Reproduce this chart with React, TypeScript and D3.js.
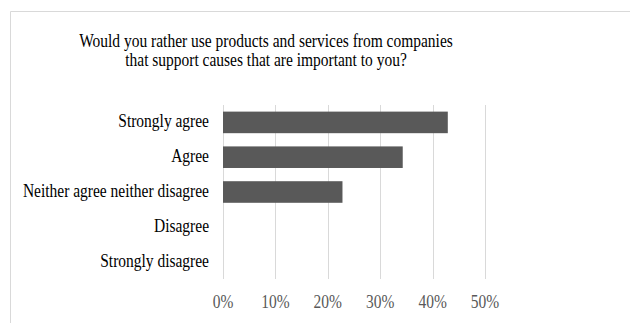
import React from "react";
import * as d3 from "d3";

const categories = ["Strongly agree", "Agree", "Neither agree neither disagree", "Disagree", "Strongly disagree"];
const values = [0.429, 0.343, 0.228, 0, 0];
const ticks = [0, 0.1, 0.2, 0.3, 0.4, 0.5];
const titleLines = [
  "Would you rather use products and services from companies",
  "that support causes that are important to you?",
];

export default function App() {
  const W = 630, H = 323;
  const x = d3.scaleLinear().domain([0, 0.5]).range([223, 485]);
  const y = d3.scaleBand().domain(categories).range([105, 279]).paddingInner(0.38).paddingOuter(0.19);
  const font = "'Liberation Serif', 'Times New Roman', serif";
  const sy = 1.22;
  return (
    <svg width={W} height={H} style={{ position: "absolute", left: 0, top: 0 }} fontFamily={font}>
      <rect x={0} y={0} width={W} height={H} fill="#fff" />
      <path d={`M10.5,${H} V11.5 H${W}`} fill="none" stroke="#d9d9d9" strokeWidth={1} />
      {titleLines.map((t, i) => (
        <text key={i} transform={`translate(266,${46.5 + i * 19.6}) scale(1,${sy})`} textAnchor="middle" fontSize={15.5} fill="#000">{t}</text>
      ))}
      {ticks.map((t) => (
        <line key={t} x1={Math.round(x(t)) + 0.5} x2={Math.round(x(t)) + 0.5} y1={105} y2={279} stroke="#d9d9d9" strokeWidth={1} />
      ))}
      {categories.map((c, i) => (
        <rect key={c} x={x(0)} y={y(c)!} width={x(values[i]) - x(0)} height={y.bandwidth()} fill="#595959" />
      ))}
      {categories.map((c) => (
        <text key={c} transform={`translate(209,${y(c)! + y.bandwidth() / 2 + 5}) scale(1,${sy})`} textAnchor="end" fontSize={15.5} fill="#000">{c}</text>
      ))}
      {ticks.map((t) => (
        <text key={t} transform={`translate(${x(t)},307.5) scale(1,${sy})`} textAnchor="middle" fontSize={15.5} fill="#595959">{d3.format(".0%")(t)}</text>
      ))}
    </svg>
  );
}
